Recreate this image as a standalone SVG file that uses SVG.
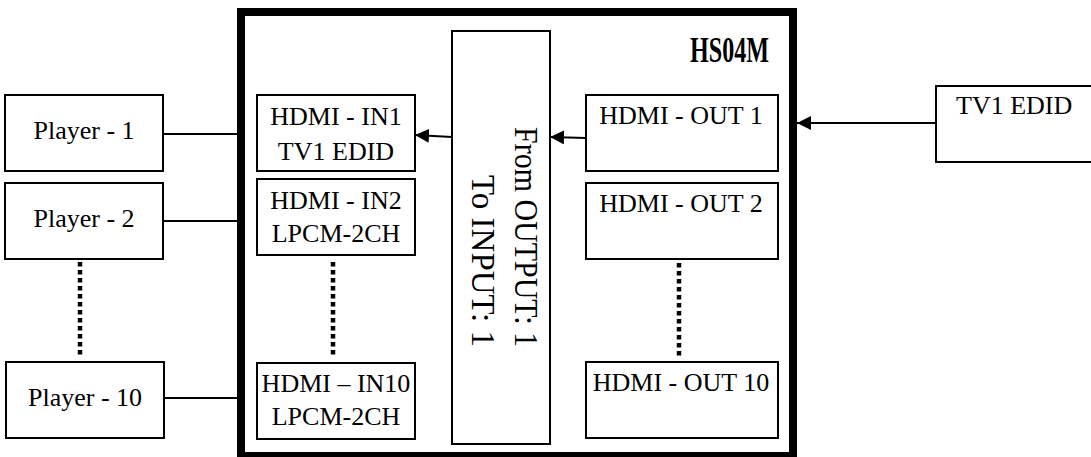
<svg xmlns="http://www.w3.org/2000/svg" width="1091" height="457" viewBox="0 0 1091 457">
<style>
.box{fill:#fff;stroke:#000;stroke-width:2}
.t{font-family:"Liberation Serif","Times New Roman",serif;font-size:26px;fill:#000}
.c{text-anchor:middle}
.dot{stroke:#000;stroke-width:4.5;stroke-dasharray:4.5 3.5;fill:none}
.ln{stroke:#000;stroke-width:2;fill:none}
.mono{font-family:"Liberation Serif","Times New Roman",serif;font-size:34px;fill:#000}
</style>
<defs>
<marker id="arr" markerUnits="userSpaceOnUse" markerWidth="15" markerHeight="14" refX="14" refY="7" orient="auto">
<path d="M0,0 L14,7 L0,14 z" fill="#000"/>
</marker>
</defs>
<rect width="1091" height="457" fill="#fff"/>
<g id="hs04m">
<rect x="241" y="12" width="552" height="444" fill="#fff" stroke="#000" stroke-width="8"/>
<text x="769" y="62" text-anchor="end" textLength="79" lengthAdjust="spacingAndGlyphs" style="font-family:'Liberation Serif','Times New Roman',serif;font-weight:bold;font-size:36px">HS04M</text>
</g>
<g id="router">
<rect class="box" x="452" y="31" width="98" height="413"/>
<text class="mono" text-anchor="end" textLength="220" lengthAdjust="spacingAndGlyphs" transform="translate(515,347) rotate(90)">From OUTPUT: 1</text>
<text class="mono" text-anchor="end" textLength="172" lengthAdjust="spacingAndGlyphs" transform="translate(472,347) rotate(90)">To INPUT: 1</text>
</g>
<g id="player1"><rect class="box" x="5" y="95" width="158" height="76"/><text class="t c" x="84" y="139">Player - 1</text></g>
<g id="player2"><rect class="box" x="5" y="183" width="158" height="76"/><text class="t c" x="84" y="227">Player - 2</text></g>
<g id="player10"><rect class="box" x="6" y="362" width="158" height="76"/><text class="t c" x="85" y="406">Player - 10</text></g>
<g id="in1"><rect class="box" x="257" y="95" width="158" height="76"/><text class="t c" x="336" y="125">HDMI - IN1</text><text class="t c" x="336" y="160">TV1 EDID</text></g>
<g id="in2"><rect class="box" x="257" y="179" width="158" height="76"/><text class="t c" x="336" y="209">HDMI - IN2</text><text class="t c" x="336" y="242">LPCM-2CH</text></g>
<g id="in10"><rect class="box" x="257" y="363" width="158" height="76"/><text class="t c" x="336" y="392">HDMI – IN10</text><text class="t c" x="336" y="425">LPCM-2CH</text></g>
<g id="out1"><rect class="box" x="586" y="95" width="192" height="76"/><text class="t c" x="681" y="124">HDMI - OUT 1</text></g>
<g id="out2"><rect class="box" x="586" y="183" width="192" height="76"/><text class="t c" x="681" y="212">HDMI - OUT 2</text></g>
<g id="out10"><rect class="box" x="586" y="362" width="192" height="76"/><text class="t c" x="681" y="391">HDMI - OUT 10</text></g>
<g id="tv1"><rect class="box" x="936" y="86" width="170" height="76"/><text class="t" x="956" y="114">TV1 EDID</text></g>
<g id="connectors">
<line class="ln" x1="163" y1="134" x2="237" y2="134"/>
<line class="ln" x1="163" y1="221" x2="237" y2="221"/>
<line class="ln" x1="164" y1="398" x2="237" y2="398"/>
<line class="dot" x1="80" y1="262" x2="80" y2="355"/>
<line class="dot" x1="333" y1="262" x2="333" y2="355"/>
<line class="dot" x1="679" y1="263" x2="679" y2="356"/>
<line class="ln" x1="936" y1="123" x2="797" y2="123" marker-end="url(#arr)"/>
<line class="ln" x1="586" y1="138" x2="550" y2="137" marker-end="url(#arr)"/>
<line class="ln" x1="452" y1="137" x2="415" y2="135" marker-end="url(#arr)"/>
</g>
</svg>
